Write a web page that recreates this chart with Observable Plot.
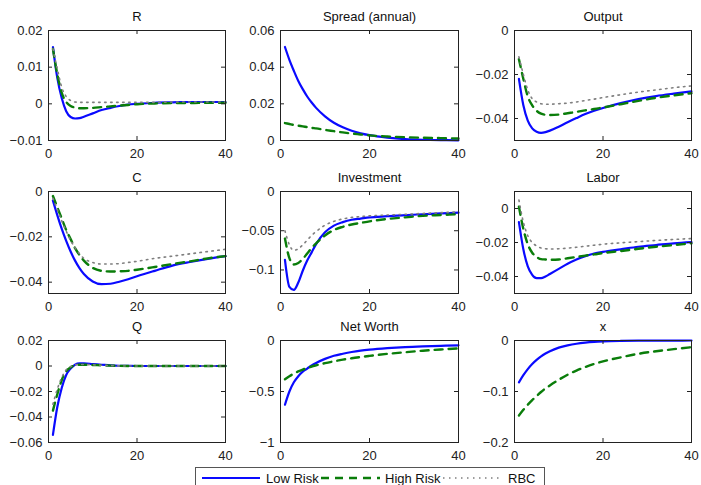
<!DOCTYPE html>
<html>
<head>
<meta charset="utf-8">
<script src="https://cdn.jsdelivr.net/npm/d3@7"></script>
<script src="https://cdn.jsdelivr.net/npm/@observablehq/plot@0.6"></script>
<style>
  html, body { margin: 0; padding: 0; background: #fff; }
  #root { position: relative; width: 701px; height: 485px; overflow: hidden; background: #fff;
          font-family: "Liberation Sans", Arial, sans-serif; }
  .panel { position: absolute; }
  #legend { position: absolute; }
</style>
</head>
<body>
<div id="root"></div>
<script>
// ---------- data ----------
const periods = [1, 2, 3, 4, 5, 6, 7, 8, 10, 12, 14, 16, 18, 20, 24, 28, 32, 36, 40];
const seriesNames = ["Low Risk", "High Risk", "RBC"];
const xTicks = [0, 20, 40];

const panelTitles = ["R", "Spread (annual)", "Output", "C", "Investment", "Labor", "Q", "Net Worth", "x"];

const R_low  = [0.0155, 0.007, 0.0015, -0.002, -0.0036, -0.004, -0.0039, -0.0035, -0.0026, -0.0017, -0.0011, -0.0006, -0.0002, 0.0, 0.0003, 0.0004, 0.0005, 0.0005, 0.0005];
const R_high = [0.015, 0.008, 0.003, 0.0005, -0.0006, -0.001, -0.0012, -0.0012, -0.0011, -0.0009, -0.0007, -0.0005, -0.0003, -0.0001, 0.0001, 0.0002, 0.0002, 0.0003, 0.0003];
const R_rbc  = [0.015, 0.0095, 0.0045, 0.002, 0.0009, 0.0005, 0.0004, 0.0004, 0.0004, 0.0004, 0.0004, 0.0004, 0.0004, 0.0004, 0.0004, 0.0005, 0.0005, 0.0005, 0.0005];
const R_domain = [-0.01, 0.02];
const R_ticks = [-0.01, 0, 0.01, 0.02];

const Spread_low  = [0.051, 0.044, 0.038, 0.0325, 0.028, 0.024, 0.0207, 0.0178, 0.0132, 0.0097, 0.0072, 0.0053, 0.0039, 0.0029, 0.0016, 0.0008, 0.0004, 0.0002, 0.0001];
const Spread_high = [0.0095, 0.009, 0.0085, 0.0081, 0.0077, 0.0073, 0.0069, 0.0066, 0.0058, 0.0051, 0.0044, 0.0038, 0.0033, 0.0028, 0.0022, 0.0018, 0.0015, 0.0013, 0.0011];
const Spread_domain = [0, 0.06];
const Spread_ticks = [0, 0.02, 0.04, 0.06];

const Output_low  = [-0.022, -0.034, -0.041, -0.0445, -0.046, -0.0465, -0.0462, -0.0455, -0.0437, -0.0417, -0.0398, -0.038, -0.0365, -0.0352, -0.033, -0.0312, -0.0298, -0.0287, -0.0277];
const Output_high = [-0.013, -0.022, -0.03, -0.034, -0.0365, -0.0378, -0.0383, -0.0384, -0.0382, -0.0376, -0.037, -0.0363, -0.0357, -0.035, -0.0335, -0.032, -0.0306, -0.0295, -0.0285];
const Output_rbc  = [-0.012, -0.02, -0.027, -0.031, -0.0325, -0.0333, -0.0335, -0.0335, -0.0333, -0.033, -0.0325, -0.0318, -0.0312, -0.0305, -0.0292, -0.028, -0.027, -0.026, -0.0252];
const Output_domain = [-0.05, 0];
const Output_ticks = [-0.04, -0.02, 0];

const C_low  = [-0.004, -0.0105, -0.0165, -0.0218, -0.0265, -0.0305, -0.0338, -0.0364, -0.0397, -0.0409, -0.0407, -0.0398, -0.0387, -0.0374, -0.0350, -0.0327, -0.0311, -0.0297, -0.0285];
const C_high = [-0.002, -0.007, -0.012, -0.017, -0.021, -0.025, -0.028, -0.0305, -0.0337, -0.035, -0.0353, -0.0352, -0.035, -0.0345, -0.0333, -0.032, -0.0308, -0.0295, -0.0285];
const C_rbc  = [-0.003, -0.008, -0.013, -0.0175, -0.0215, -0.0248, -0.0275, -0.0295, -0.0313, -0.032, -0.032, -0.0318, -0.0313, -0.0308, -0.0295, -0.0285, -0.0275, -0.0265, -0.0255];
const C_domain = [-0.045, 0];
const C_ticks = [-0.04, -0.02, 0];

const Inv_low  = [-0.087, -0.1215, -0.1255, -0.116, -0.101, -0.088, -0.0776, -0.067, -0.052, -0.0435, -0.039, -0.036, -0.0345, -0.033, -0.0315, -0.030, -0.029, -0.028, -0.027];
const Inv_high = [-0.06, -0.085, -0.093, -0.091, -0.086, -0.079, -0.072, -0.066, -0.056, -0.049, -0.045, -0.042, -0.040, -0.038, -0.035, -0.033, -0.031, -0.030, -0.029];
const Inv_rbc  = [-0.05, -0.068, -0.075, -0.073, -0.068, -0.062, -0.056, -0.051, -0.043, -0.038, -0.035, -0.033, -0.032, -0.031, -0.030, -0.029, -0.028, -0.027, -0.026];
const Inv_domain = [-0.13, 0];
const Inv_ticks = [-0.1, -0.05, 0];

const Labor_low  = [-0.008, -0.024, -0.034, -0.039, -0.041, -0.041, -0.040, -0.0385, -0.0355, -0.0325, -0.030, -0.028, -0.0265, -0.0255, -0.024, -0.0225, -0.0215, -0.0205, -0.0198];
const Labor_high = [0.001, -0.012, -0.021, -0.026, -0.0285, -0.0298, -0.030, -0.0302, -0.030, -0.0293, -0.0285, -0.0277, -0.027, -0.0262, -0.025, -0.0237, -0.0225, -0.0215, -0.0205];
const Labor_rbc  = [0.005, -0.008, -0.016, -0.020, -0.022, -0.0232, -0.0237, -0.0238, -0.0237, -0.0233, -0.0228, -0.0222, -0.0216, -0.021, -0.0202, -0.0195, -0.0188, -0.0182, -0.0177];
const Labor_domain = [-0.05, 0.01];
const Labor_ticks = [-0.04, -0.02, 0];

const Q_low  = [-0.054, -0.032, -0.017, -0.007, -0.002, 0.001, 0.002, 0.002, 0.0015, 0.001, 0.0005, 0.0002, 0.0001, 0, 0, 0, 0, 0, 0];
const Q_high = [-0.035, -0.022, -0.011, -0.004, -0.001, 0.0005, 0.001, 0.001, 0.0008, 0.0005, 0.0003, 0.0001, 0, 0, 0, 0, 0, 0, 0];
const Q_rbc  = [-0.030, -0.018, -0.009, -0.003, -0.0005, 0.0008, 0.0012, 0.0012, 0.0009, 0.0006, 0.0003, 0.0001, 0, 0, 0, 0, 0, 0, 0];
const Q_domain = [-0.06, 0.02];
const Q_ticks = [-0.06, -0.04, -0.02, 0, 0.02];

const NW_low  = [-0.63, -0.50, -0.41, -0.35, -0.305, -0.275, -0.245, -0.22, -0.18, -0.15, -0.13, -0.113, -0.1, -0.09, -0.075, -0.064, -0.057, -0.052, -0.048];
const NW_high = [-0.38, -0.35, -0.325, -0.303, -0.285, -0.27, -0.255, -0.243, -0.222, -0.204, -0.188, -0.174, -0.162, -0.151, -0.131, -0.115, -0.100, -0.088, -0.077];
const NW_domain = [-1, 0];
const NW_ticks = [-1, -0.5, 0];

const X_low  = [-0.082, -0.068, -0.056, -0.046, -0.038, -0.031, -0.0255, -0.021, -0.014, -0.0095, -0.0063, -0.0042, -0.0028, -0.0019, -0.0009, -0.0004, -0.0002, -0.0001, 0];
const X_high = [-0.147, -0.136, -0.126, -0.117, -0.109, -0.101, -0.094, -0.088, -0.077, -0.067, -0.059, -0.052, -0.046, -0.041, -0.033, -0.026, -0.021, -0.017, -0.013];
const X_domain = [-0.2, 0];
const X_ticks = [-0.2, -0.1, 0];

// ---------- assemble ----------
const panels = [
  {low: R_low, high: R_high, rbc: R_rbc, domain: R_domain, ticks: R_ticks},
  {low: Spread_low, high: Spread_high, rbc: null, domain: Spread_domain, ticks: Spread_ticks},
  {low: Output_low, high: Output_high, rbc: Output_rbc, domain: Output_domain, ticks: Output_ticks},
  {low: C_low, high: C_high, rbc: C_rbc, domain: C_domain, ticks: C_ticks},
  {low: Inv_low, high: Inv_high, rbc: Inv_rbc, domain: Inv_domain, ticks: Inv_ticks},
  {low: Labor_low, high: Labor_high, rbc: Labor_rbc, domain: Labor_domain, ticks: Labor_ticks},
  {low: Q_low, high: Q_high, rbc: Q_rbc, domain: Q_domain, ticks: Q_ticks},
  {low: NW_low, high: NW_high, rbc: null, domain: NW_domain, ticks: NW_ticks},
  {low: X_low, high: X_high, rbc: null, domain: X_domain, ticks: X_ticks}
].map((p, i) => ({...p, title: panelTitles[i]}));

const styles = {
  low:  {stroke: "#0a0aff", strokeWidth: 2.2},
  high: {stroke: "#0a7d0a", strokeWidth: 2.4, strokeDasharray: "8,6"},
  rbc:  {stroke: "#7f7f7f", strokeWidth: 1.6, strokeDasharray: "1.5,4.5"}
};

const colLeft = [48, 280, 514], colRight = [225, 458, 691];
const rowTop = [30, 191, 340], rowBottom = [140, 293, 442];
const mL = 50, mR = 10, mT = 28, mB = 24;

const fmt = d => d === 0 ? "0" : (d < 0 ? "\u2212" : "") + String(Math.abs(d));
const FONT = "Liberation Sans, Arial, sans-serif";
const root = document.getElementById("root");

panels.forEach((p, i) => {
  const col = i % 3, row = Math.floor(i / 3);
  const w = colRight[col] - colLeft[col];
  const h = rowBottom[row] - rowTop[row];
  const rows = [];
  ["low", "high", "rbc"].forEach(s => {
    if (!p[s]) return;
    periods.forEach((t, k) => rows.push({t, v: p[s][k], s}));
  });
  const lineMarks = ["low", "high", "rbc"].filter(s => p[s]).map(s =>
    Plot.line(rows.filter(r => r.s === s), {x: "t", y: "v", curve: "monotone-x", ...styles[s]}));

  const chart = Plot.plot({
    width: w + mL + mR,
    height: h + mT + mB,
    marginLeft: mL, marginRight: mR, marginTop: mT, marginBottom: mB,
    style: {fontFamily: FONT, fontSize: "13px", color: "#222", background: "transparent", overflow: "visible"},
    x: {domain: [0, 40]},
    y: {domain: p.domain},
    marks: [
      ...lineMarks,
      Plot.frame({stroke: "#222", strokeWidth: 1}),
      Plot.tickX(xTicks, {x: d => d, insetTop: h - 4, stroke: "#222"}),
      Plot.tickX(xTicks, {x: d => d, insetBottom: h - 4, stroke: "#222"}),
      Plot.tickY(p.ticks, {y: d => d, insetRight: w - 4, stroke: "#222"}),
      Plot.tickY(p.ticks, {y: d => d, insetLeft: w - 4, stroke: "#222"}),
      Plot.axisX({ticks: xTicks, tickSize: 0, tickPadding: 8, tickFormat: fmt, fontSize: 13, label: null}),
      Plot.axisY({ticks: p.ticks, tickSize: 0, tickPadding: 6, tickFormat: fmt, fontSize: 13, label: null}),
      Plot.text([p.title], {text: d => d, frameAnchor: "top", dy: -14, lineAnchor: "middle", fontSize: 13, fill: "#111"})
    ]
  });
  const wrap = document.createElement("div");
  wrap.className = "panel";
  wrap.style.left = (colLeft[col] - mL) + "px";
  wrap.style.top = (rowTop[row] - mT) + "px";
  wrap.appendChild(chart);
  root.appendChild(wrap);
});

// ---------- legend ----------
const ns = "http://www.w3.org/2000/svg";
const leg = document.createElementNS(ns, "svg");
leg.setAttribute("id", "legend");
leg.setAttribute("width", 352);
leg.setAttribute("height", 20);
leg.style.left = "195px";
leg.style.top = "467px";
const box = document.createElementNS(ns, "rect");
box.setAttribute("x", 0.5); box.setAttribute("y", 0.5);
box.setAttribute("width", 349); box.setAttribute("height", 22);
box.setAttribute("fill", "#fff"); box.setAttribute("stroke", "#555");
leg.appendChild(box);
const legItems = [
  {key: "low", x1: 7, x2: 65, tx: 71},
  {key: "high", x1: 126, x2: 185, tx: 190},
  {key: "rbc", x1: 248, x2: 308, tx: 313}
];
legItems.forEach((it, k) => {
  const ln = document.createElementNS(ns, "line");
  ln.setAttribute("x1", it.x1); ln.setAttribute("x2", it.x2);
  ln.setAttribute("y1", 11); ln.setAttribute("y2", 11);
  const st = styles[it.key];
  ln.setAttribute("stroke", st.stroke);
  ln.setAttribute("stroke-width", st.strokeWidth);
  if (st.strokeDasharray) ln.setAttribute("stroke-dasharray", st.strokeDasharray);
  leg.appendChild(ln);
  const tx = document.createElementNS(ns, "text");
  tx.setAttribute("x", it.tx); tx.setAttribute("y", 15.5);
  tx.setAttribute("font-family", FONT); tx.setAttribute("font-size", 13);
  tx.setAttribute("fill", "#111");
  tx.textContent = seriesNames[k];
  leg.appendChild(tx);
});
root.appendChild(leg);
</script>
</body>
</html>
